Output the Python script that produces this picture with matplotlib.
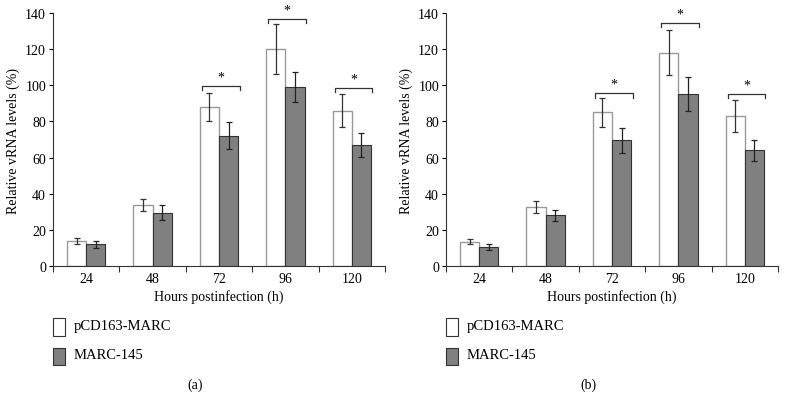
import matplotlib.pyplot as plt
from matplotlib.patches import Rectangle
import numpy as np

plt.rcParams['font.family'] = ['Liberation Serif', 'DejaVu Serif']

# Dữ liệu
hours = ['24', '48', '72', '96', '120']
pcd_a = [14, 33.5, 88, 120, 86]
pcd_a_err = [1.6, 3.3, 8, 14, 9]
marc_a = [12, 29.5, 72, 99, 67]
marc_a_err = [1.8, 4.2, 7.5, 8.5, 6.8]

pcd_b = [13.5, 32.5, 85, 118, 83]
pcd_b_err = [1.5, 3.3, 8, 12.5, 9]
marc_b = [10.5, 28, 69.5, 95, 64]
marc_b_err = [1.8, 3, 7, 9.5, 6]

# nhóm có dấu *, độ cao ngoặc
star_idx = [2, 3, 4]
bracket_a = [99.5, 136.5, 98.5]
bracket_b = [95.5, 134.5, 95]

fig = plt.figure(figsize=(7.86, 4.10), dpi=100)
W, H = 786, 410


def panel(left_px, pcd, pcd_err, marc, marc_err, brackets, tag):
    ax = fig.add_axes([left_px / W, (H - 267) / H, 332 / W, 253 / H])
    x = np.arange(len(hours))
    w = 0.29
    ax.bar(x - w / 2, pcd, w, color='white', edgecolor='#999999', linewidth=1.0)
    ax.bar(x + w / 2, marc, w, color='#808080', edgecolor='#333333', linewidth=0.8)
    ax.errorbar(x - w / 2, pcd, yerr=pcd_err, fmt='none', ecolor='#333333',
                elinewidth=0.9, capsize=2.2, capthick=0.9)
    ax.errorbar(x + w / 2, marc, yerr=marc_err, fmt='none', ecolor='#222222',
                elinewidth=0.9, capsize=2.2, capthick=0.9)
    for i, yb in zip(star_idx, brackets):
        x0, x1 = i - 0.26, i + 0.31
        ax.plot([x0, x0, x1, x1], [yb - 2.3, yb, yb, yb - 2.3], color='#333333', lw=0.9)
        ax.text((x0 + x1) / 2, yb + 1.5, '*', ha='center', va='bottom', fontsize=10)
    ax.set_xlim(-0.5, 4.5)
    ax.set_ylim(0, 140)
    ax.set_yticks(range(0, 141, 20))
    ax.set_xticks(x)
    ax.set_xticklabels(hours)
    ax.set_xticks(np.arange(-0.5, 5, 1), minor=True)
    ax.tick_params(axis='x', which='major', length=0, labelsize=10, pad=4)
    ax.tick_params(axis='x', which='minor', length=4, width=0.8, color='#333333')
    ax.tick_params(axis='y', length=3, width=0.8, labelsize=10, pad=2)
    for s in ['top', 'right']:
        ax.spines[s].set_visible(False)
    for s in ['left', 'bottom']:
        ax.spines[s].set_color('#333333')
        ax.spines[s].set_linewidth(0.8)
    ax.set_xlabel('Hours postinfection (h)', fontsize=10, labelpad=3)
    ax.set_ylabel('Relative vRNA levels (%)', fontsize=10, labelpad=4)

    # chú thích
    fig.patches.append(Rectangle(((left_px) / W, (H - 337) / H), 12 / W, 18 / H,
                                 transform=fig.transFigure, facecolor='white',
                                 edgecolor='#333333', linewidth=0.8))
    fig.patches.append(Rectangle(((left_px) / W, (H - 366) / H), 12 / W, 17 / H,
                                 transform=fig.transFigure, facecolor='#808080',
                                 edgecolor='#333333', linewidth=0.8))
    fig.text((left_px + 21) / W, (H - 327) / H, 'pCD163-MARC', fontsize=10.5, va='center')
    fig.text((left_px + 21) / W, (H - 356) / H, 'MARC-145', fontsize=10.5, va='center')
    fig.text((left_px + 142) / W, (H - 385) / H, tag, fontsize=10, va='center', ha='center')


panel(53, pcd_a, pcd_a_err, marc_a, marc_a_err, bracket_a, '(a)')
panel(446, pcd_b, pcd_b_err, marc_b, marc_b_err, bracket_b, '(b)')

fig.savefig('out.png', dpi=100)
